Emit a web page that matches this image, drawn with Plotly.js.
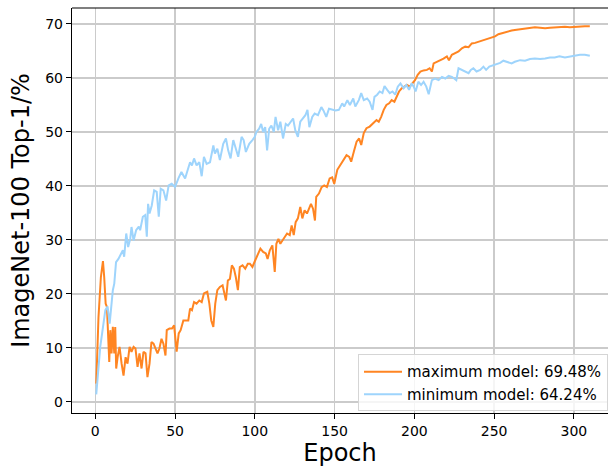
<!DOCTYPE html>
<html>
<head>
<meta charset="utf-8">
<script src="https://cdn.plot.ly/plotly-3.0.1.min.js"></script>
<style>html,body{margin:0;padding:0;background:#fff;}#chart{width:608px;height:468px;}</style>
</head>
<body>
<div id="chart"></div>
<script>
// maximum model (orange)
const maxEpochs = [0.6,2,3.5,4.8,5.6,6.5,7.3,8.1,8.75,9.4,10.2,11,11.9,12.5,13.1,14,15.2,16.5,17.7,19,20.2,21.5,22.7,24,25.2,26.5,27.7,29,30.2,31.5,32.7,34,35.2,36.5,37.7,39,40.2,41.5,42.7,44,44.8,46.5,48.1,49.4,51,52.3,53.5,55.2,56.9,58.3,59.4,60.6,61.9,63.5,65.2,66.7,68.1,70.2,71.5,72.7,74,75.2,76.5,78.1,79.8,81,81.9,83.1,84.4,85.6,86.9,88.1,89.4,90.6,92.3,94,95.6,96.9,98.5,100.2,101.9,103.5,105.2,106.9,108,109.4,111,112.5,113.5,114.8,116,117.3,118.8,120.2,121.9,123.1,124.4,125.6,127,128.5,129.8,131.2,132.7,134,135.2,136.5,137.7,138.5,140.2,141.9,143.5,145.2,146.9,148.5,149.8,151.7,153.8,155.8,157.5,159.2,160.4,162.1,163.8,165.4,166.7,168.3,170,172,174.2,176.3,177.7,179.2,180.8,182.5,184.2,185.8,187.5,189.2,190.4,192.1,193.8,195.4,197.1,198.8,200.4,202.1,203.8,205.8,207.9,209.6,211,212.1,214.2,216.3,218.3,220.4,221.7,223.5,225.6,227.7,229.8,231.9,234,236,238.1,240.2,242.3,244.4,246.5,248.5,250.6,252.7,254.8,256.9,259,261,263,266.3,269.4,272.5,275.6,278.8,282,285,288,291.3,294.4,297.5,300.6,303.8,306.9,310];
const maxAcc = [3.4,15.7,23.1,26.1,23.1,18.2,17.6,12.7,7.4,13.3,9,13.9,9,13.9,6.2,8.3,10.2,7.1,4.9,8.3,7.1,10.2,9.3,10.2,9.9,6.5,9,6.2,9.3,9,4.6,7.1,11.1,10.8,9.9,9,9.9,11.7,10.8,8.6,13.3,13.6,13.6,14.2,9.3,12.7,13.3,15.1,15.1,15.1,17.3,17,18.5,18.2,18.8,18.5,20.1,20.4,18.2,15.1,13.9,18.2,20.7,21.3,21.6,20.1,18.8,22.5,22.8,25.3,24.7,23.1,20.7,25,25.3,24.7,25.6,25.6,25,26.2,27.5,28.4,27.8,27.5,26.5,28.1,29,24.1,29.3,30.2,29.3,29.9,30.6,31.2,30.9,32.7,30.9,33.3,34,36.1,34,35.5,34.9,35.8,36.7,35.8,33.6,38,38.6,39.8,40.1,39.8,41.4,41.6,40.4,43,43.9,44.8,45.7,45.4,44.5,46.4,48.2,48.8,47.6,49.8,50.7,51,51.6,52.2,51.9,52.8,54.1,55,55.3,55.9,55.6,56.9,57.5,58.1,58.4,58.7,58.4,59,59.6,60.6,61.2,61.4,61.5,61.8,61.2,62.7,63,63.2,63.6,64,63.3,64.3,64.6,64.9,65.5,65.8,65.7,66.4,66.5,66.7,66.9,67.2,67.3,67.5,67.7,68.1,68.3,68.4,68.6,68.8,68.9,69,69.1,69.2,69.4,69.3,69.2,69.3,69.4,69.4,69.5,69.4,69.5,69.5,69.6,69.6];

// minimum model (light blue)
const minEpochs = [0.6,3.1,6.3,7.7,9,11,11.9,13,14.5,16,17.3,18.1,19.4,20.6,21.9,22.7,24,25.6,27.3,28.1,29.8,31.3,32.3,33.1,34,35.4,36.9,38.5,39.8,41,42.7,44.4,46,47.9,50,52.1,54,56.3,57.7,59.4,60.6,61.9,63.5,65.2,66.7,68.1,69.8,71.9,74,75,76.5,78.1,80.2,81.9,83.3,84.8,86.5,88.1,89.6,91.7,93,94.4,96.5,98.5,100,101,102.7,104,105.2,106.5,107.7,109,110.4,111.9,113,114.6,116,117.7,119.4,120.8,122.3,124,125.4,127,128.5,130,131.7,133,134.2,136,137.5,139.6,141.7,143,144.8,146.5,150.6,152.7,154.8,156,158,159.6,161.7,163,165.2,166.7,168.3,170.4,172,173.8,175,176.7,178.3,180,181.3,183,184.6,186.3,188,189.6,191.3,193.3,195,196.7,198.3,199.6,200.8,202.5,204.2,205.8,207.5,209,211,213,215.2,217.3,219.4,221.5,223.5,225,226.3,227.7,229.8,231.9,234,235.4,237,239,241.3,243.3,245,247,249.6,251.7,253.8,255.8,257.9,261,263,266.3,269.4,272.5,275.6,278.8,282,285,288,291,294.4,297.5,300.6,303.8,306.9,310];
const minAcc = [1.4,10.2,17,17.7,14.5,20.7,21.9,25.9,26.5,27.5,28.1,26.9,31.2,28.7,30.2,32.4,29.9,31.8,32.5,31.8,34.3,34.6,30.6,36.7,34.9,36.4,39.2,38.9,34.3,39.5,39.2,37.3,40.1,40.4,39.8,41.4,42.6,41.4,42.9,44.4,43.8,45.1,43.8,44.4,41.8,45.4,44.1,44.4,47.5,46,46.9,44.8,47.8,48.8,46.6,45.1,48.5,46.9,45.4,49.1,48.5,46.3,47.8,48.5,49.1,50,50.6,51.5,50,50.9,46.6,50.6,51.2,50,52.8,50.3,51.9,48.8,51.5,51.2,51.9,52.5,50.3,49.1,51.9,52.5,53.1,54.1,50.9,52.8,53.4,53.1,54.6,54,52.8,54.3,54,54.1,55.3,54.7,55.9,55,56.2,54.7,55.9,57.2,55.9,56.2,55.6,54.1,56.5,56.9,57.5,57.2,58.5,57.8,57.2,57.5,56.9,58.4,59,58.1,58.7,57.8,59,58.4,57.5,59.3,58.7,59.3,58.4,57,59.6,59.9,59.6,60.2,59.9,60.4,60.2,59.9,59.6,61.8,61.5,61.2,60.9,61.5,61.8,61.2,61.5,62.1,61.5,62.1,62.4,62.7,62.8,63.2,63,62.7,63,63.3,63.2,63.5,63.6,63.5,63.6,63.8,63.8,64,63.8,64,64.1,64.3,64.3,64.1,64.1];

const seriesNames = ['maximum model: 69.48%', 'minimum model: 64.24%'];
const xTicks = [0, 50, 100, 150, 200, 250, 300];
const yTicks = [0, 10, 20, 30, 40, 50, 60, 70];

const font = 'DejaVu Sans, Liberation Sans, sans-serif';

const traces = [
  {x: maxEpochs, y: maxAcc, name: seriesNames[0], type: 'scatter', mode: 'lines',
   line: {color: '#ff8522', width: 2}},
  {x: minEpochs, y: minAcc, name: seriesNames[1], type: 'scatter', mode: 'lines',
   line: {color: '#9ed4fc', width: 2}}
];

const layout = {
  width: 608, height: 468,
  margin: {l: 72, r: 0, t: 8, b: 55},
  paper_bgcolor: '#fff', plot_bgcolor: '#fff',
  font: {family: font, color: '#000', size: 14},
  showlegend: true,
  xaxis: {
    range: [-14.6, 321.4], tickvals: xTicks, ticktext: xTicks.map(String),
    showgrid: true, gridcolor: '#cbcbcb', gridwidth: 1.5, zeroline: false,
    showline: true, linecolor: '#000', linewidth: 1.2,
    ticks: 'outside', ticklen: 5, tickwidth: 1, tickcolor: '#000',
    tickfont: {size: 14, family: font},
    title: {text: 'Epoch', font: {size: 24, family: font}, standoff: 6}
  },
  yaxis: {
    range: [-2.04, 72.96], tickvals: yTicks, ticktext: yTicks.map(String),
    showgrid: true, gridcolor: '#cbcbcb', gridwidth: 1.5, zeroline: false,
    showline: true, linecolor: '#000', linewidth: 1.2,
    ticks: 'outside', ticklen: 5, tickwidth: 1, tickcolor: '#000',
    tickfont: {size: 14, family: font},
    title: {text: 'ImageNet-100 Top-1/%', font: {size: 24, family: font}, standoff: 8}
  },
  legend: {
    x: 1, xanchor: 'right', y: 0.004, yanchor: 'bottom',
    bgcolor: 'rgba(255,255,255,0.8)', bordercolor: '#d5d5d5', borderwidth: 1,
    font: {size: 15, family: font}, tracegroupgap: 0, itemwidth: 38
  },
  shapes: [
    {type: 'line', xref: 'paper', yref: 'paper', x0: 0, x1: 1, y0: 1, y1: 1,
     line: {color: '#000', width: 1.2}}
  ]
};

Plotly.newPlot('chart', traces, layout, {displayModeBar: false, staticPlot: true});
</script>
</body>
</html>
